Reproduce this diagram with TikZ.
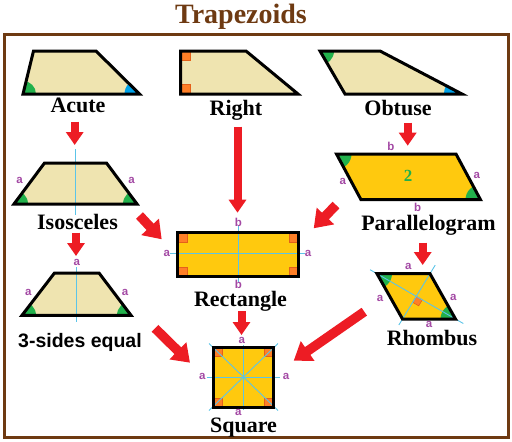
\documentclass[tikz,border=0pt]{standalone}
\usepackage{fontspec}
\setmainfont{Liberation Serif}
\newfontfamily\sidefont{Liberation Sans}
\usetikzlibrary{arrows.meta, calc}

\definecolor{brn}{HTML}{6E3A12}
\definecolor{pale}{HTML}{EFE4B0}
\definecolor{gold}{HTML}{FFC90E}
\definecolor{grn}{HTML}{22B14C}
\definecolor{blu}{HTML}{00A2E8}
\definecolor{org}{HTML}{FF7F27}
\definecolor{orgdk}{HTML}{E4601A}
\definecolor{purp}{HTML}{A349A4}
\definecolor{lineblue}{HTML}{5CC4E8}
\definecolor{arrred}{HTML}{ED1C24}

\begin{document}
\begin{tikzpicture}[x=1pt, y=-1pt,
    outline/.style={draw=black, line width=3pt},
    midline/.style={draw=lineblue, line width=0.9pt},
    sidelbl/.style={text=purp, inner sep=0pt, font=\sidefont\bfseries\fontsize{11.5}{11.5}\selectfont},
    kindlbl/.style={anchor=base, inner sep=0pt, font=\bfseries\fontsize{22}{22}\selectfont},
    rmark/.style={fill=org, draw=orgdk, line width=0.6pt},
    arr/.style={draw=arrred, line width=8pt, -{Triangle[length=13pt, width=17pt]}},
    bigarr/.style={draw=arrred, line width=9.5pt, -{Triangle[length=17pt, width=23pt]}}]
  \useasboundingbox (0,0) rectangle (512,442);

  % Title and frame
  \node[kindlbl, text=brn, font=\bfseries\fontsize{28}{28}\selectfont] (title) at (241,23.5) {Trapezoids};
  \draw[brn, line width=3pt] (4.5,34.5) rectangle (508.5,437);

  % Acute
  \coordinate (acTL) at (33.5,51); \coordinate (acTR) at (96,51);
  \coordinate (acBR) at (139.5,94); \coordinate (acBL) at (23,94);
  \fill[pale] (acTL) -- (acTR) -- (acBR) -- (acBL) -- cycle;
  \begin{scope}
    \clip (acTL) -- (acTR) -- (acBR) -- (acBL) -- cycle;
    \fill[grn] (acBL) circle[radius=13pt];
    \fill[blu] (acBR) circle[radius=15pt];
  \end{scope}
  \draw[outline] (acTL) -- (acTR) -- (acBR) -- (acBL) -- cycle;
  \node[kindlbl] (acutelbl) at (78,112) {Acute};

  % Right
  \coordinate (rtTL) at (180.5,51); \coordinate (rtTR) at (246,51);
  \coordinate (rtBR) at (298,94); \coordinate (rtBL) at (180.5,94);
  \fill[pale] (rtTL) -- (rtTR) -- (rtBR) -- (rtBL) -- cycle;
  \filldraw[rmark] (rtTL) rectangle ++(9.5,9.5);
  \filldraw[rmark] (rtBL) rectangle ++(9.5,-9.5);
  \draw[outline] (rtTL) -- (rtTR) -- (rtBR) -- (rtBL) -- cycle;
  \node[kindlbl] (rightlbl) at (236,115) {Right};

  % Obtuse
  \coordinate (obTL) at (320,51); \coordinate (obTR) at (380,51);
  \coordinate (obBR) at (462,94); \coordinate (obBL) at (345,94);
  \fill[pale] (obTL) -- (obTR) -- (obBR) -- (obBL) -- cycle;
  \begin{scope}
    \clip (obTL) -- (obTR) -- (obBR) -- (obBL) -- cycle;
    \fill[grn] (obTL) circle[radius=14pt];
    \fill[blu] (obBR) circle[radius=18pt];
  \end{scope}
  \draw[outline] (obTL) -- (obTR) -- (obBR) -- (obBL) -- cycle;
  \node[kindlbl] (obtuselbl) at (398,115) {Obtuse};

  % Isosceles
  \coordinate (isTL) at (44.5,163); \coordinate (isTR) at (106.5,163);
  \coordinate (isBR) at (137,204); \coordinate (isBL) at (14,204);
  \fill[pale] (isTL) -- (isTR) -- (isBR) -- (isBL) -- cycle;
  \begin{scope}
    \clip (isTL) -- (isTR) -- (isBR) -- (isBL) -- cycle;
    \fill[grn] (isBL) circle[radius=14pt];
    \fill[grn] (isBR) circle[radius=14pt];
  \end{scope}
  \draw[midline] (75.5,149) -- (75.5,215);
  \draw[outline] (isTL) -- (isTR) -- (isBR) -- (isBL) -- cycle;
  \node[sidelbl] (isA1) at (19.5,180.7) {a};
  \node[sidelbl] (isA2) at (131.5,180.7) {a};
  \node[kindlbl] (isolbl) at (77.5,229) {Isosceles};

  % 3-sides equal
  \coordinate (thTL) at (54.5,273); \coordinate (thTR) at (99,273);
  \coordinate (thBR) at (131,315.3); \coordinate (thBL) at (22,315.3);
  \fill[pale] (thTL) -- (thTR) -- (thBR) -- (thBL) -- cycle;
  \begin{scope}
    \clip (thTL) -- (thTR) -- (thBR) -- (thBL) -- cycle;
    \fill[grn] (thBL) circle[radius=14pt];
    \fill[grn] (thBR) circle[radius=14pt];
  \end{scope}
  \draw[midline] (76.7,267) -- (76.7,322);
  \draw[outline] (thTL) -- (thTR) -- (thBR) -- (thBL) -- cycle;
  \node[sidelbl] (thA1) at (76.7,262.3) {a};
  \node[sidelbl] (thA2) at (28.3,292.3) {a};
  \node[sidelbl] (thA3) at (125,292.3) {a};
  \node[kindlbl, font=\sidefont\bfseries\fontsize{19.5}{19.5}\selectfont] (threelbl) at (80,347) {3-sides equal};

  % Parallelogram
  \coordinate (paTL) at (336.5,154); \coordinate (paTR) at (456,154);
  \coordinate (paBR) at (480.5,199.7); \coordinate (paBL) at (361,199.7);
  \fill[gold] (paTL) -- (paTR) -- (paBR) -- (paBL) -- cycle;
  \begin{scope}
    \clip (paTL) -- (paTR) -- (paBR) -- (paBL) -- cycle;
    \fill[grn] (paTL) circle[radius=15pt];
    \fill[grn] (paBR) circle[radius=15pt];
  \end{scope}
  \draw[outline] (paTL) -- (paTR) -- (paBR) -- (paBL) -- cycle;
  \node[text=grn, font=\bfseries\fontsize{17}{17}\selectfont] (paTwo) at (408,176) {2};
  \node[sidelbl] (paB1) at (391,146.7) {b};
  \node[sidelbl] (paB2) at (417.7,207.8) {b};
  \node[sidelbl] (paA1) at (342.7,181.7) {a};
  \node[sidelbl] (paA2) at (476.7,175) {a};
  \node[kindlbl] (paralbl) at (428.5,230.5) {Parallelogram};

  % Rectangle
  \fill[gold] (177.5,232.5) rectangle (298.5,276.5);
  \filldraw[rmark] (177.5,232.5) rectangle ++(9.5,9.5);
  \filldraw[rmark] (298.5,232.5) rectangle ++(-9.5,9.5);
  \filldraw[rmark] (298.5,276.5) rectangle ++(-9.5,-9.5);
  \filldraw[rmark] (177.5,276.5) rectangle ++(9.5,-9.5);
  \draw[midline] (238.3,226) -- (238.3,281.7);
  \draw[midline] (170,253.3) -- (304.5,253.3);
  \draw[outline] (177.5,232.5) rectangle (298.5,276.5);
  \node[sidelbl] (reB1) at (238.3,222.3) {b};
  \node[sidelbl] (reB2) at (238.3,284.7) {b};
  \node[sidelbl] (reA1) at (166.7,253.3) {a};
  \node[sidelbl] (reA2) at (308,253.5) {a};
  \node[kindlbl] (rectlbl) at (240.5,306) {Rectangle};

  % Rhombus
  \coordinate (rhTL) at (377,273.7); \coordinate (rhTR) at (430,273.7);
  \coordinate (rhBR) at (455.5,319); \coordinate (rhBL) at (402.5,319);
  \coordinate (rhO) at ($(rhTL)!.5!(rhBR)$);
  \fill[gold] (rhTL) -- (rhTR) -- (rhBR) -- (rhBL) -- cycle;
  \begin{scope}
    \clip (rhTL) -- (rhTR) -- (rhBR) -- (rhBL) -- cycle;
    \fill[grn] (rhTL) circle[radius=15pt];
    \fill[grn] (rhBR) circle[radius=15pt];
  \end{scope}
  \filldraw[rmark] (rhO) -- ($(rhO)!7pt!(rhBR)$) -- ($(rhO)!7pt!(rhBR) + (rhO)!7pt!(rhBL) - (rhO)$) -- ($(rhO)!7pt!(rhBL)$) -- cycle;
  \draw[midline] ($(rhTL)!-8pt!(rhBR)$) -- ($(rhBR)!-9pt!(rhTL)$);
  \draw[midline] ($(rhTR)!-10pt!(rhBL)$) -- ($(rhBL)!-7pt!(rhTR)$);
  \draw[outline] (rhTL) -- (rhTR) -- (rhBR) -- (rhBL) -- cycle;
  \node[sidelbl] (rhA1) at (408.3,266) {a};
  \node[sidelbl] (rhA2) at (380,298.3) {a};
  \node[sidelbl] (rhA3) at (453.3,297.3) {a};
  \node[sidelbl] (rhA4) at (429,324.5) {a};
  \node[kindlbl] (rhomblbl) at (432,345.5) {Rhombus};

  % Square
  \fill[gold] (213.5,347) rectangle (273.5,407);
  \filldraw[rmark] (213.5,347) rectangle ++(9,9);
  \filldraw[rmark] (273.5,347) rectangle ++(-9,9);
  \filldraw[rmark] (273.5,407) rectangle ++(-9,-9);
  \filldraw[rmark] (213.5,407) rectangle ++(9,-9);
  \draw[midline] (243.5,345) -- (243.5,410);
  \draw[midline] (206.7,377) -- (280,377);
  \draw[midline] (209,343.5) -- (278,410.5);
  \draw[midline] (278,343.5) -- (209,410.5);
  \draw[outline] (213.5,347) rectangle (273.5,407);
  \node[sidelbl] (sqA1) at (241.7,340.7) {a};
  \node[sidelbl] (sqA2) at (202.3,376.7) {a};
  \node[sidelbl] (sqA3) at (286,376.7) {a};
  \node[sidelbl] (sqA4) at (238.3,412) {a};
  \node[kindlbl] (squarelbl) at (243.5,432) {Square};

  % Arrows
  \coordinate (acOut) at (74.7,121.7);   \coordinate (isoTop) at (74.7,145);
  \coordinate (rtOut) at (237.5,126.7);  \coordinate (rectTop) at (237.5,212.7);
  \coordinate (obOut) at (407.7,122.7);  \coordinate (paraTop) at (407.7,145.7);
  \coordinate (isoOut) at (139.5,215.5); \coordinate (rectL) at (161.7,239.3);
  \coordinate (paraOut) at (336,205);    \coordinate (rectR) at (313.7,228.3);
  \coordinate (isoDown) at (76,232.7);   \coordinate (thrTop) at (76,256);
  \coordinate (paraDown) at (422.7,242.7); \coordinate (rhTop) at (422.7,265);
  \coordinate (rectOut) at (241.5,311);  \coordinate (sqTop) at (241.5,335);
  \coordinate (thrOut) at (155,328.3);   \coordinate (sqL) at (190,362.7);
  \coordinate (rhOut) at (364.3,311.7);  \coordinate (sqR) at (293.7,360.7);
  \draw[arr] (acOut) -- (isoTop);
  \draw[arr] (rtOut) -- (rectTop);
  \draw[arr] (obOut) -- (paraTop);
  \draw[bigarr] (isoOut) -- (rectL);
  \draw[bigarr] (paraOut) -- (rectR);
  \draw[arr] (isoDown) -- (thrTop);
  \draw[arr] (paraDown) -- (rhTop);
  \draw[arr] (rectOut) -- (sqTop);
  \draw[bigarr] (thrOut) -- (sqL);
  \draw[bigarr] (rhOut) -- (sqR);
\end{tikzpicture}
\end{document}
